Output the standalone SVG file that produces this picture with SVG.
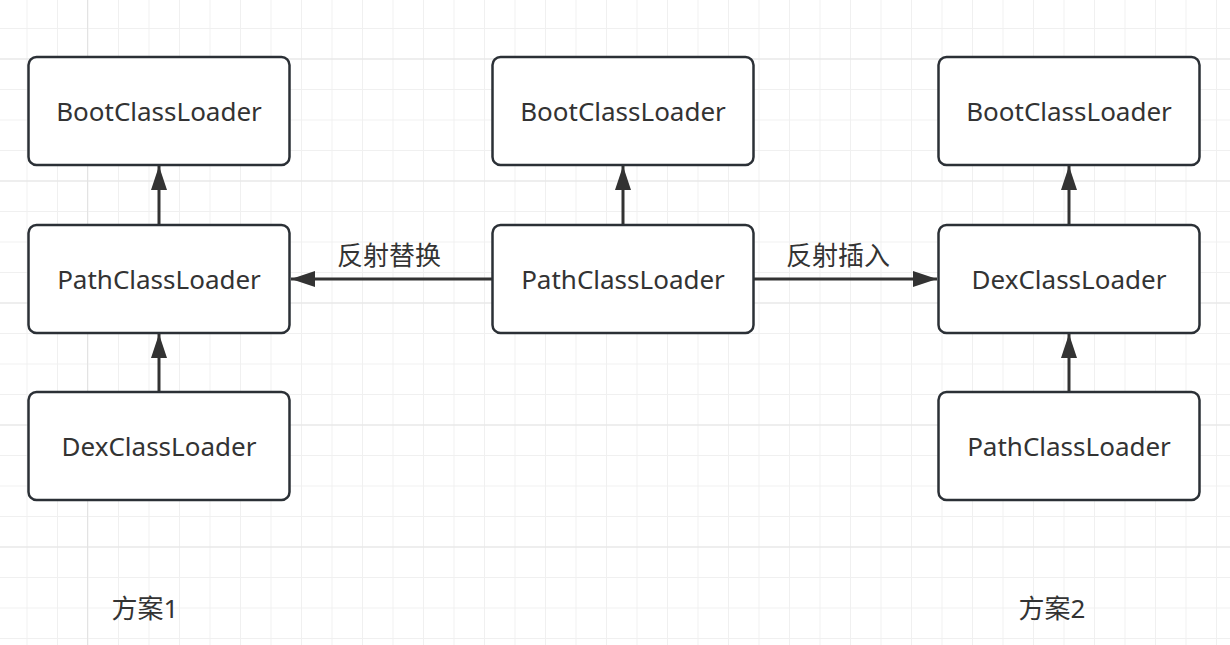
<svg xmlns="http://www.w3.org/2000/svg" width="1230" height="645" viewBox="0 0 1230 645">
<defs>
  <pattern id="minor" x="26.5" y="-2.5" width="30.5" height="30.5" patternUnits="userSpaceOnUse">
    <path d="M0 0 H30.5 M0 0 V30.5" fill="none" stroke="#f0f0f0" stroke-width="2"/>
  </pattern>
  <pattern id="major" x="87" y="58.5" width="122" height="122" patternUnits="userSpaceOnUse">
    <path d="M0 0 H122 M0 0 V122" fill="none" stroke="#e3e3e3" stroke-width="2"/>
  </pattern>
  <marker id="arr" viewBox="0 0 24 16" refX="24" refY="8" markerWidth="24" markerHeight="16" markerUnits="userSpaceOnUse" orient="auto">
    <path d="M0 0 L24 8 L0 16 Z" fill="#333333"/>
  </marker>
  <style>
    .box{fill:#ffffff;stroke:#2b3036;stroke-width:2.5}
    .lbl{font-family:"Noto Sans","Noto Sans CJK SC",sans-serif;font-size:26px;fill:#333333;text-anchor:middle;dominant-baseline:central}
    .edge{stroke:#333333;stroke-width:3;fill:none;marker-end:url(#arr)}
  </style>
</defs>
<rect width="1230" height="645" fill="#ffffff"/>
<rect width="1230" height="645" fill="url(#minor)"/>
<rect width="1230" height="645" fill="url(#major)"/>

<g id="connectors">
  <line class="edge" x1="159" y1="225" x2="159" y2="166"/>
  <line class="edge" x1="159" y1="392" x2="159" y2="334"/>
  <line class="edge" x1="623" y1="225" x2="623" y2="166"/>
  <line class="edge" x1="492" y1="279" x2="291" y2="279"/>
  <line class="edge" x1="754" y1="279" x2="937" y2="279"/>
  <line class="edge" x1="1069" y1="225" x2="1069" y2="166"/>
  <line class="edge" x1="1069" y1="392" x2="1069" y2="334"/>
  <text class="lbl" x="389" y="255">反射替换</text>
  <text class="lbl" x="838" y="255">反射插入</text>
</g>

<g id="left-boot"><rect class="box" x="28.5" y="57" width="261" height="108" rx="8"/><text class="lbl" x="159" y="111">BootClassLoader</text></g>
<g id="left-path"><rect class="box" x="28.5" y="225" width="261" height="108" rx="8"/><text class="lbl" x="159" y="279">PathClassLoader</text></g>
<g id="left-dex"><rect class="box" x="28.5" y="392" width="261" height="108" rx="8"/><text class="lbl" x="159" y="446">DexClassLoader</text></g>

<g id="mid-boot"><rect class="box" x="492.5" y="57" width="261" height="108" rx="8"/><text class="lbl" x="623" y="111">BootClassLoader</text></g>
<g id="mid-path"><rect class="box" x="492.5" y="225" width="261" height="108" rx="8"/><text class="lbl" x="623" y="279">PathClassLoader</text></g>

<g id="right-boot"><rect class="box" x="938.5" y="57" width="261" height="108" rx="8"/><text class="lbl" x="1069" y="111">BootClassLoader</text></g>
<g id="right-dex"><rect class="box" x="938.5" y="225" width="261" height="108" rx="8"/><text class="lbl" x="1069" y="279">DexClassLoader</text></g>
<g id="right-path"><rect class="box" x="938.5" y="392" width="261" height="108" rx="8"/><text class="lbl" x="1069" y="446">PathClassLoader</text></g>

<g id="plan1"><text class="lbl" x="145" y="608">方案1</text></g>
<g id="plan2"><text class="lbl" x="1052" y="608">方案2</text></g>
</svg>
